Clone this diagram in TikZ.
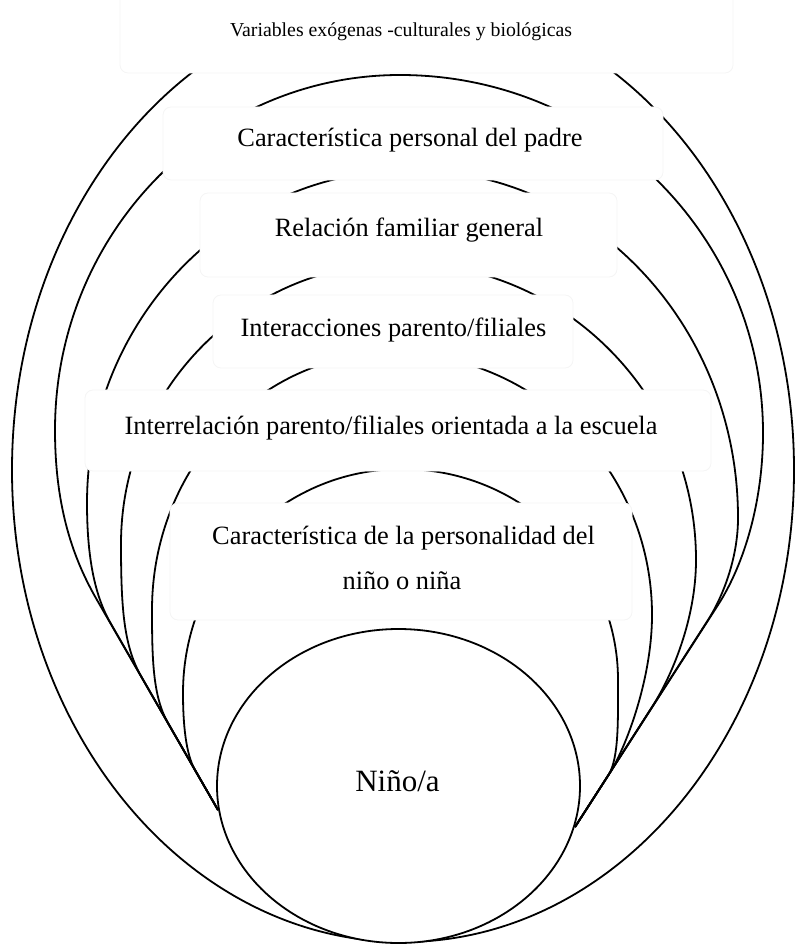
\documentclass[tikz,border=0pt]{standalone}
\usepackage{fontspec}
\setmainfont{Liberation Serif}
\begin{document}
\begin{tikzpicture}[x=0.5pt,y=0.5pt,
  ring/.style={draw=black, line width=0.9pt},
  lbox/.style={fill=white, draw=black!4, line width=0.4pt, rounded corners=4pt},
  lbl/.style={inner sep=0pt, anchor=base, font=\fontsize{13.2}{16}\selectfont}]
\useasboundingbox (0,0) rectangle (795,-945);
% outer layer
\draw[ring] (403,-470) ellipse [x radius=195.5pt, y radius=236pt];
% layer 2
\draw[ring] (218,-810) -- (97,-600) .. controls (74.5,-561) and (55,-510) .. (55,-430)
  arc[start angle=180,end angle=90,x radius=172.5pt,y radius=177.5pt]
  arc[start angle=90,end angle=0,x radius=181.5pt,y radius=179pt]
  .. controls (763,-500) and (745,-563) .. (718,-605) -- (575,-827);
% layer 3
\draw[ring] (218,-810) -- (110.5,-623) .. controls (95.5,-597) and (87,-560) .. (87,-503)
  arc[start angle=180,end angle=90,x radius=162pt,y radius=166.5pt]
  arc[start angle=90,end angle=0,x radius=163.5pt,y radius=174pt]
  .. controls (738,-560) and (721.5,-599) .. (708,-620) -- (575,-827);
% layer 4
\draw[ring] (218,-810) -- (141.5,-677) .. controls (124,-646.6) and (121,-610) .. (121,-544)
  arc[start angle=180,end angle=90,x radius=140.25pt,y radius=140.5pt]
  arc[start angle=90,end angle=0,x radius=147.25pt,y radius=148.5pt]
  .. controls (696,-620) and (671,-677.6) .. (652,-707) -- (575,-827);
% layer 5
\draw[ring] (218,-810) -- (168,-723) .. controls (153,-697) and (152,-660) .. (152,-610)
  arc[start angle=180,end angle=90,x radius=120.5pt,y radius=128.5pt]
  arc[start angle=90,end angle=0,x radius=129.5pt,y radius=131pt]
  .. controls (652,-680) and (625,-750) .. (608.5,-775) -- (575,-827);
% layer 6
\draw[ring] (218,-810) -- (195,-770) .. controls (186,-754.4) and (183,-725) .. (183,-693)
  arc[start angle=180,end angle=90,x radius=109.5pt,y radius=112pt]
  arc[start angle=90,end angle=0,x radius=108pt,y radius=105.5pt]
  .. controls (618,-720) and (619,-758) .. (608.5,-775) -- (575,-827);
% text boxes
\path[lbox] (120,10) rectangle (733,-73);
\path[lbox] (163,-107) rectangle (663,-180);
\path[lbox] (200,-193) rectangle (617,-277);
\path[lbox] (213,-295) rectangle (573,-368);
\path[lbox] (85,-390) rectangle (711,-471);
\path[lbox] (170,-503) rectangle (632,-620);
% inner circle
\draw[ring, fill=white] (398.5,-786) ellipse [x radius=90.75pt, y radius=78.5pt];
% labels
\node[lbl, font=\fontsize{9.9}{12}\selectfont] (title) at (401,-37) {Variables exógenas -culturales y biológicas};
\node[lbl] (t1) at (410,-147) {Característica personal del padre};
\node[lbl] (t2) at (409,-237) {Relación familiar general};
\node[lbl] (t3) at (393.5,-337) {Interacciones parento/filiales};
\node[lbl] (t4) at (391,-435) {Interrelación parento/filiales orientada a la escuela};
\node[lbl] (t5a) at (403.5,-544) {Característica de la personalidad del};
\node[lbl] (t5b) at (402,-589) {niño o niña};
\node[lbl, font=\fontsize{15.5}{18}\selectfont] (kid) at (397.5,-791) {Niño/a};
\end{tikzpicture}
\end{document}
